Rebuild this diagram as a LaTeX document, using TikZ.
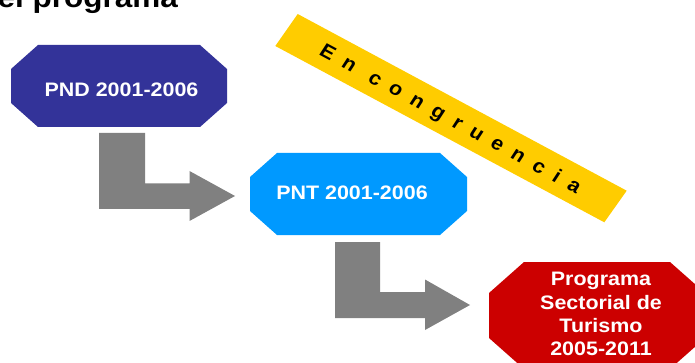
\documentclass[tikz,border=0pt]{standalone}
\usepackage{fontspec}
\setmainfont{Liberation Sans}[Scale=1.0]
\newfontfamily\spacedfont{Liberation Sans}[LetterSpace=54]
\definecolor{navybox}{HTML}{333399}
\definecolor{bluebox}{HTML}{0099FF}
\definecolor{redbox}{HTML}{CC0000}
\definecolor{goldband}{HTML}{FFCC00}
\definecolor{greyarrow}{HTML}{808080}
\tikzset{
  boxlabel/.style={text=white,font=\fontsize{19.5}{23.2}\selectfont\bfseries,align=center,inner sep=0pt,xscale=1.1,transform shape},
  titlelabel/.style={text=black,font=\fontsize{28.6}{30}\selectfont\bfseries,inner sep=0pt,xscale=1.1,transform shape},
  bandlabel/.style={text=black,font=\spacedfont\fontsize{19.5}{22}\selectfont\bfseries,inner sep=0pt,xscale=1.1,rotate=-30.6,transform shape},
  blockarrow/.style={fill=greyarrow,draw=none}
}
\begin{document}
\begin{tikzpicture}[x=1pt,y=-1pt]
\useasboundingbox (0,0) rectangle (695,363);
\clip (0,0) rectangle (695,363);
\node[titlelabel,anchor=base east] (title) at (178,8) {el programa};
\fill[navybox] (38,45) -- (200,45) -- (227,69) -- (227,103) -- (200,127) -- (38,127) -- (11,103) -- (11,69) -- cycle;
\node[boxlabel] (pnd) at (121.5,89.5) {PND 2001-2006};
\fill[bluebox] (277,153) -- (440,153) -- (467,177) -- (467,211) -- (440,235) -- (277,235) -- (250,211) -- (250,177) -- cycle;
\node[boxlabel] (pnt) at (352,193) {PNT 2001-2006};
\fill[redbox] (524,262) -- (670,262) -- (705,293) -- (705,338) -- (670,369) -- (524,369) -- (489,338) -- (489,293) -- cycle;
\node[boxlabel] (psect) at (601,314) {Programa\\Sectorial de\\Turismo\\2005-2011};
\fill[goldband] (297.7,14) -- (626.7,190.7) -- (604.3,222.3) -- (275.3,46) -- cycle;
\node[bandlabel] (band) at (450,120) {En congruencia};
\fill[blockarrow] (99,133) -- (145,133) -- (145,183.5) -- (189.5,183.5) -- (189.5,171) -- (235,196) -- (189.5,221) -- (189.5,209) -- (99,209) -- cycle;
\fill[blockarrow] (335,242) -- (380,242) -- (380,292) -- (425,292) -- (425,279.5) -- (470,305) -- (425,330) -- (425,318) -- (335,318) -- cycle;
\end{tikzpicture}
\end{document}
